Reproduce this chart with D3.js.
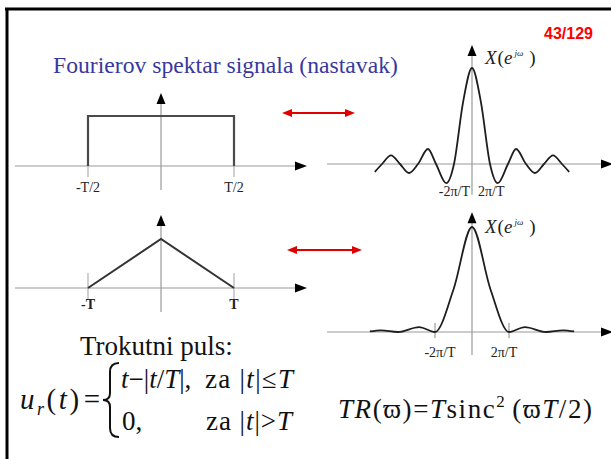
<!DOCTYPE html>
<html>
<head>
<meta charset="utf-8">
<script src="https://cdn.jsdelivr.net/npm/d3@7"></script>
<style>
  html, body { margin: 0; padding: 0; background: #fff; }
  svg { display: block; }
</style>
</head>
<body>
<svg id="slide" width="611" height="459"></svg>
<script>
// ---------- data ----------
const slideTitle = "Fourierov spektar signala (nastavak)";
const pageLabel = "43/129";

// rectangular pulse (t in units of T)
const rectT = [-0.5, -0.5, 0.5, 0.5];
const rectU = [0, 1, 1, 0];
const rectTicks = [-0.5, 0.5];
const rectTickLabels = ["-T/2", "T/2"];

// triangular pulse (t in units of T)
const triT = [-1, 0, 1];
const triU = [0, 1, 0];
const triTicks = [-1, 1];
const triTickLabels = ["-T", "T"];

// spectrum of the rectangular pulse (ω in units of 2π/T), extrema and zero crossings
const sincW = [-5.4, -5, -4.5, -4, -3.5, -3, -2.45, -2, -1.43, -1, -0.5, 0, 0.5, 1, 1.43, 2, 2.45, 3, 3.5, 4, 4.5, 5, 5.4];
const sincX = [-0.083, 0, 0.09, 0, -0.094, 0, 0.156, 0, -0.2, 0, 0.64, 1, 0.64, 0, -0.2, 0, 0.156, 0, -0.094, 0, 0.09, 0, -0.083];
const sincTickLabels = ["-2π/T", "2π/T"];

// spectrum of the triangular pulse (ω in units of 2π/T)
const sinc2W = [-2.76, -2.46, -2, -1.43, -1, -0.5, 0, 0.5, 1, 1.43, 2, 2.46, 2.76];
const sinc2X = [0.005, 0.016, 0, 0.047, 0, 0.405, 1, 0.405, 0, 0.047, 0, 0.016, 0.005];
const sinc2Ticks = [-1, 1];
const sinc2TickLabels = ["-2π/T", "2π/T"];

// ---------- drawing ----------
const svg = d3.select("#slide");
const SERIF = "'Liberation Serif', 'Times New Roman', serif";
const SANS = "'Liberation Sans', Arial, sans-serif";

// slide frame (top and left edges)
svg.append("line").attr("x1", 5).attr("x2", 611).attr("y1", 9).attr("y2", 9)
  .attr("stroke", "#000").attr("stroke-width", 3);
svg.append("line").attr("x1", 7).attr("x2", 7).attr("y1", 8).attr("y2", 459)
  .attr("stroke", "#000").attr("stroke-width", 3);

// page number
svg.append("text").attr("x", 593).attr("y", 39).attr("text-anchor", "end")
  .attr("font-family", SANS).attr("font-weight", "bold").attr("font-size", 16)
  .attr("fill", "#f00").text(pageLabel);

// title, sized to its box
const title = svg.append("text").attr("x", 53).attr("y", 73)
  .attr("font-family", SERIF).attr("font-size", 24).attr("fill", "#38389e")
  .text(slideTitle);
{
  const w = title.node().getComputedTextLength();
  title.attr("font-size", 24 * 345 / w);
}

function arrowHead(g, x, y, dir, len, half, color) {
  let pts;
  if (dir === "right") pts = [[x, y], [x - len, y - half], [x - len, y + half]];
  else if (dir === "left") pts = [[x, y], [x + len, y - half], [x + len, y + half]];
  else pts = [[x, y], [x - half, y + len], [x + half, y + len]]; // up
  g.append("polygon").attr("points", pts.map(p => p.join(",")).join(" ")).attr("fill", color);
}

// axes with arrowheads, built from the panel scales
function drawAxes(g, x, y, xr, yr) {
  const ax = "#9a9a9a";
  g.append("line").attr("x1", x(xr[0])).attr("x2", x(xr[1]) - 8)
    .attr("y1", y(0)).attr("y2", y(0)).attr("stroke", ax).attr("stroke-width", 1.2);
  arrowHead(g, x(xr[1]), y(0), "right", 12, 4.5, "#000");
  g.append("line").attr("x1", x(0)).attr("x2", x(0))
    .attr("y1", y(yr[0])).attr("y2", y(yr[1]) + 8).attr("stroke", ax).attr("stroke-width", 1.2);
  arrowHead(g, x(0), y(yr[1]), "up", 11, 4.5, "#000");
}

function spectrumLabel(g, x0, y0) {
  const t = g.append("text").attr("x", x0).attr("y", y0)
    .attr("font-family", SERIF).attr("font-size", 19).attr("fill", "#222");
  t.append("tspan").attr("font-style", "italic").text("X");
  t.append("tspan").attr("dx", 1).text("(");
  t.append("tspan").attr("font-style", "italic").text("e");
  t.append("tspan").attr("font-style", "italic").attr("font-size", 9).attr("dx", 2).attr("dy", -8).text("jω");
  t.append("tspan").attr("dx", 6).attr("dy", 8).text(")");
}

// ---- panel 1: rectangular pulse ----
{
  const g = svg.append("g");
  const x = d3.scaleLinear().domain([-0.5, 0.5]).range([88, 234]);
  const y = d3.scaleLinear().domain([0, 1]).range([166, 116]);
  rectTicks.forEach(t => g.append("line").attr("x1", x(t)).attr("x2", x(t))
    .attr("y1", y(0)).attr("y2", y(0) + 11).attr("stroke", "#b0b0b0").attr("stroke-width", 1.2));
  drawAxes(g, x, y, [-1, 1], [-0.48, 1.46]);
  const line = d3.line().x((d, i) => x(rectT[i])).y((d, i) => y(rectU[i]));
  g.append("path").attr("d", line(rectT)).attr("fill", "none")
    .attr("stroke", "#4a4a4a").attr("stroke-width", 2.2);
  rectTicks.forEach((t, i) => g.append("text").attr("x", x(t)).attr("y", y(0) + 26)
    .attr("text-anchor", "middle").attr("font-family", SERIF).attr("font-size", 14)
    .attr("fill", "#222").text(rectTickLabels[i]));
}

// ---- panel 2: spectrum of rectangular pulse ----
{
  const g = svg.append("g");
  const x = d3.scaleLinear().domain([-1, 1]).range([454, 490]);
  const y = d3.scaleLinear().domain([0, 1]).range([164, 68]);
  drawAxes(g, x, y, [x.invert(327), x.invert(613)], [-0.32, 1.24]);
  const line = d3.line().x((d, i) => x(sincW[i])).y((d, i) => y(sincX[i])).curve(d3.curveMonotoneX);
  g.append("path").attr("d", line(sincW)).attr("fill", "none")
    .attr("stroke", "#1e1e1e").attr("stroke-width", 1.8);
  g.append("text").attr("x", x(0) - 2).attr("y", y(0) + 32).attr("text-anchor", "end")
    .attr("font-family", SERIF).attr("font-size", 14).attr("fill", "#222").text(sincTickLabels[0]);
  g.append("text").attr("x", x(0) + 6).attr("y", y(0) + 32).attr("text-anchor", "start")
    .attr("font-family", SERIF).attr("font-size", 14).attr("fill", "#222").text(sincTickLabels[1]);
  spectrumLabel(g, x(0) + 13, 64);
}

// ---- panel 3: triangular pulse ----
{
  const g = svg.append("g");
  const x = d3.scaleLinear().domain([-1, 1]).range([88, 234]);
  const y = d3.scaleLinear().domain([0, 1]).range([288, 239]);
  triTicks.forEach(t => g.append("line").attr("x1", x(t)).attr("x2", x(t))
    .attr("y1", y(0) - 15).attr("y2", y(0) + 12).attr("stroke", "#b0b0b0").attr("stroke-width", 1.2));
  drawAxes(g, x, y, [-2, 2], [-0.49, 1.49]);
  const line = d3.line().x((d, i) => x(triT[i])).y((d, i) => y(triU[i]));
  g.append("path").attr("d", line(triT)).attr("fill", "none")
    .attr("stroke", "#333").attr("stroke-width", 2);
  triTicks.forEach((t, i) => g.append("text").attr("x", x(t)).attr("y", y(0) + 21)
    .attr("text-anchor", "middle").attr("font-family", SERIF).attr("font-weight", "bold")
    .attr("font-size", 14).attr("fill", "#222").text(triTickLabels[i]));
}

// ---- panel 4: spectrum of triangular pulse ----
{
  const g = svg.append("g");
  const x = d3.scaleLinear().domain([-1, 1]).range([435, 509]);
  const y = d3.scaleLinear().domain([0, 1]).range([332, 227]);
  sinc2Ticks.forEach(t => g.append("line").attr("x1", x(t)).attr("x2", x(t))
    .attr("y1", y(0) - 9).attr("y2", y(0) + 6).attr("stroke", "#9a9a9a").attr("stroke-width", 1.2));
  drawAxes(g, x, y, [x.invert(327), x.invert(613)], [-0.22, 1.14]);
  const line = d3.line().x((d, i) => x(sinc2W[i])).y((d, i) => y(sinc2X[i])).curve(d3.curveMonotoneX);
  g.append("path").attr("d", line(sinc2W)).attr("fill", "none")
    .attr("stroke", "#1e1e1e").attr("stroke-width", 1.8);
  sinc2Ticks.forEach((t, i) => g.append("text").attr("x", x(t) - 5 * t).attr("y", y(0) + 25)
    .attr("text-anchor", "middle").attr("font-family", SERIF).attr("font-size", 14)
    .attr("fill", "#222").text(sinc2TickLabels[i]));
  spectrumLabel(g, x(0) + 13, 233);
}

// ---- red correspondence arrows ----
function redArrow(x1, x2, yy) {
  const g = svg.append("g");
  g.append("line").attr("x1", x1 + 6).attr("x2", x2 - 6).attr("y1", yy).attr("y2", yy)
    .attr("stroke", "#e00000").attr("stroke-width", 2);
  arrowHead(g, x1, yy, "left", 10, 4, "#e00000");
  arrowHead(g, x2, yy, "right", 10, 4, "#e00000");
}
redArrow(282, 355, 113);
redArrow(287, 362, 250);

// ---- formulas ----
const FS = 27;
function fitText(sel, width) {
  sel.attr("textLength", width).attr("lengthAdjust", "spacing");
}

svg.append("text").attr("x", 80).attr("y", 355).attr("font-family", SERIF)
  .attr("font-size", FS).attr("fill", "#111").text("Trokutni puls:");

{
  const t = svg.append("text").attr("x", 20).attr("y", 409).attr("font-family", SERIF)
    .attr("font-size", FS + 2).attr("fill", "#111");
  t.append("tspan").attr("font-style", "italic").text("u");
  t.append("tspan").attr("font-style", "italic").attr("font-size", 18).attr("dy", 6).text("r");
  t.append("tspan").attr("dy", -6).text("(");
  t.append("tspan").attr("font-style", "italic").text("t");
  t.append("tspan").text(")");
  t.append("tspan").attr("dx", 2).text("=");
  fitText(t, 80);

  // brace
  const xr = 119, xm = 110, xl = 103, y0 = 363, ym = 400, y1 = 437;
  svg.append("path")
    .attr("d", `M${xr},${y0} Q${xm},${y0} ${xm},${y0 + 9} L${xm},${ym - 7} Q${xm},${ym} ${xl},${ym} Q${xm},${ym} ${xm},${ym + 7} L${xm},${y1 - 9} Q${xm},${y1} ${xr},${y1}`)
    .attr("fill", "none").attr("stroke", "#111").attr("stroke-width", 2);

  const r1 = svg.append("text").attr("x", 121).attr("y", 388).attr("font-family", SERIF)
    .attr("font-size", FS).attr("fill", "#111");
  r1.append("tspan").attr("font-style", "italic").text("t");
  r1.append("tspan").text("−|");
  r1.append("tspan").attr("font-style", "italic").text("t");
  r1.append("tspan").text("/");
  r1.append("tspan").attr("font-style", "italic").text("T");
  r1.append("tspan").text("|,");
  const z1 = svg.append("text").attr("x", 205).attr("y", 388).attr("font-family", SERIF)
    .attr("font-size", FS).attr("fill", "#111");
  z1.append("tspan").text("za |");
  z1.append("tspan").attr("font-style", "italic").text("t");
  z1.append("tspan").text("|≤");
  z1.append("tspan").attr("font-style", "italic").text("T");
  fitText(z1, 88);

  svg.append("text").attr("x", 122).attr("y", 430).attr("font-family", SERIF)
    .attr("font-size", FS).attr("fill", "#111").text("0,");
  const z2 = svg.append("text").attr("x", 206).attr("y", 430).attr("font-family", SERIF)
    .attr("font-size", FS).attr("fill", "#111");
  z2.append("tspan").text("za |");
  z2.append("tspan").attr("font-style", "italic").text("t");
  z2.append("tspan").text("|>");
  z2.append("tspan").attr("font-style", "italic").text("T");
  fitText(z2, 86);
}

{
  const t = svg.append("text").attr("x", 338).attr("y", 418).attr("font-family", SERIF)
    .attr("font-size", FS).attr("fill", "#111");
  t.append("tspan").attr("font-style", "italic").text("TR");
  t.append("tspan").text("(ϖ)=");
  t.append("tspan").attr("font-style", "italic").text("T");
  t.append("tspan").text("sinc");
  t.append("tspan").attr("font-size", 17).attr("dy", -11).text("2");
  t.append("tspan").attr("dy", 11).attr("dx", 6).text("(ϖ");
  t.append("tspan").attr("font-style", "italic").text("T");
  t.append("tspan").text("/2)");
  fitText(t, 254);
}
</script>
</body>
</html>
